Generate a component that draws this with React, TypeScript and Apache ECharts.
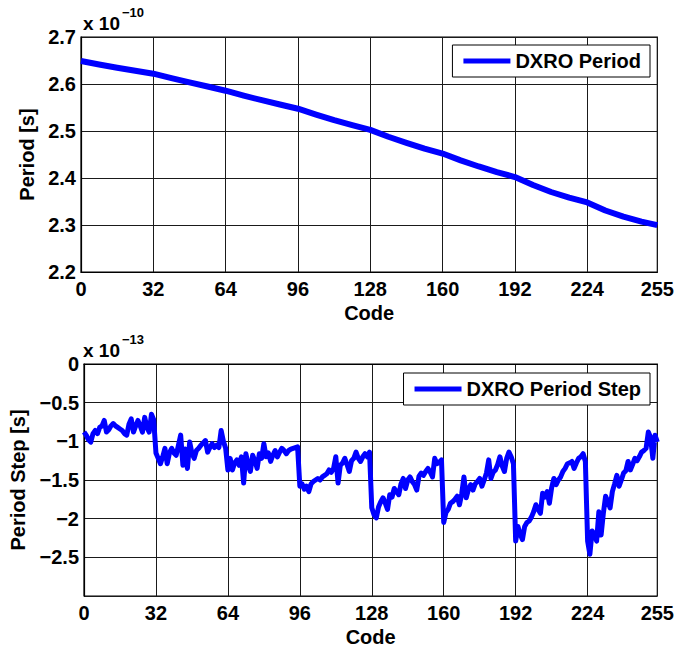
import React, { useEffect, useRef } from "react";
import * as echarts from "echarts";

const FONT = "'Liberation Sans', Arial, Helvetica, sans-serif";

// x tick values shared by both plots
const codeTicks = [0, 32, 64, 96, 128, 160, 192, 224, 255];

// Top plot: DXRO period (units of 1e-10 s), sampled codes
const topCodes = [0, 8, 16, 24, 32, 40, 48, 56, 64, 72, 80, 88, 96, 104, 112, 120, 128, 136, 144, 152, 160, 168, 176, 184, 192, 200, 208, 216, 224, 232, 240, 248, 255];
const topPeriod = [2.649, 2.6415, 2.6347, 2.6281, 2.6219, 2.6125, 2.6035, 2.5947, 2.5857, 2.5753, 2.5655, 2.5563, 2.5474, 2.5348, 2.5231, 2.5125, 2.5024, 2.4878, 2.4748, 2.4626, 2.452, 2.4375, 2.4245, 2.4127, 2.402, 2.385, 2.3702, 2.3582, 2.348, 2.3308, 2.3177, 2.3071, 2.2997];

// Bottom plot: DXRO period step (units of 1e-13 s), codes 0..255
const periodStep = [
  -0.88, -0.92, -0.98, -1.01, -0.90, -0.86, -0.90, -0.82, -0.80, -0.73, -0.88, -0.85, -0.80, -0.77, -0.80, -0.82,
  -0.84, -0.86, -0.90, -0.92, -0.78, -0.71, -0.88, -0.80, -0.73, -0.80, -0.88, -0.69, -0.82, -0.88, -0.65, -0.72,
  -1.15, -1.22, -1.29, -1.20, -1.09, -1.29, -1.15, -1.09, -1.15, -1.18, -1.05, -0.92, -1.31, -1.10, -1.35, -1.01,
  -1.15, -1.22, -1.12, -1.09, -1.05, -1.02, -0.99, -1.14, -1.08, -1.03, -1.08, -1.05, -1.08, -0.86, -1.00, -1.09,
  -1.37, -1.22, -1.37, -1.28, -1.24, -1.31, -1.20, -1.54, -1.16, -1.30, -1.39, -1.18, -1.25, -1.35, -1.16, -1.22,
  -1.03, -1.20, -1.15, -1.26, -1.18, -1.12, -1.20, -1.14, -1.09, -1.12, -1.16, -1.12, -1.10, -1.09, -1.08, -1.07,
  -1.58, -1.55, -1.62, -1.58, -1.65, -1.55, -1.52, -1.50, -1.48, -1.50, -1.46, -1.44, -1.42, -1.37, -1.40, -1.35,
  -1.20, -1.54, -1.31, -1.28, -1.22, -1.30, -1.39, -1.25, -1.22, -1.14, -1.22, -1.26, -1.20, -1.16, -1.20, -1.14,
  -1.86, -1.95, -1.99, -1.85, -1.78, -1.73, -1.80, -1.88, -1.69, -1.72, -1.61, -1.65, -1.69, -1.55, -1.48, -1.61,
  -1.50, -1.46, -1.52, -1.56, -1.63, -1.45, -1.41, -1.44, -1.39, -1.35, -1.40, -1.46, -1.22, -1.29, -1.27, -1.24,
  -2.05, -1.92, -1.88, -1.80, -1.78, -1.75, -1.71, -1.82, -1.68, -1.46, -1.73, -1.62, -1.56, -1.63, -1.55, -1.52,
  -1.48, -1.58, -1.50, -1.41, -1.24, -1.48, -1.40, -1.37, -1.30, -1.20, -1.32, -1.39, -1.22, -1.14, -1.20, -1.29,
  -2.29, -2.10, -2.20, -2.27, -2.10, -2.05, -2.03, -1.98, -1.91, -1.82, -1.88, -1.93, -1.67, -1.72, -1.65, -1.80,
  -1.60, -1.48, -1.56, -1.50, -1.46, -1.39, -1.35, -1.29, -1.28, -1.26, -1.35, -1.28, -1.22, -1.20, -1.16, -1.26,
  -2.29, -2.46, -2.16, -2.20, -2.29, -1.91, -2.21, -1.93, -1.71, -1.78, -1.86, -1.65, -1.55, -1.44, -1.58, -1.50,
  -1.41, -1.38, -1.26, -1.37, -1.30, -1.22, -1.25, -1.20, -1.14, -1.12, -1.09, -0.88, -0.95, -1.22, -0.92, -1.01,
];

const topLabels = ["2.2", "2.3", "2.4", "2.5", "2.6", "2.7"];
const bottomLabels = ["0", "\u22120.5", "\u22121", "\u22121.5", "\u22122", "\u22122.5"];

const BLUE = "#0000ff";

export default function App() {
  const ref = useRef<HTMLDivElement>(null);
  useEffect(() => {
    if (!ref.current) return;
    const chart = echarts.init(ref.current, null, { renderer: "svg" });
    const labelStyle = { fontFamily: FONT, fontSize: 20, fontWeight: "bold", color: "#000" };
    const xAxisCommon = (gridIndex: number) => ({
      type: "value",
      gridIndex,
      min: 0,
      max: 255,
      interval: 32,
      name: "Code",
      nameLocation: "middle",
      nameGap: 31,
      nameTextStyle: { ...labelStyle },
      axisLine: { show: true, lineStyle: { color: "#000", width: 1.2 } },
      axisTick: { show: false },
      axisLabel: { ...labelStyle, margin: 7, formatter: (v: number) => (codeTicks.includes(v) ? String(v) : "") },
      splitLine: { show: true, lineStyle: { color: "#1a1a1a", width: 1 } },
    });
    const legendCommon = {
      icon: "rect",
      itemWidth: 47,
      itemHeight: 5,
      borderColor: "#000",
      borderWidth: 1,
      backgroundColor: "#fff",
      padding: [6, 9, 6, 11],
      textStyle: { ...labelStyle },
      selectedMode: false,
    };
    const option = {
      animation: false,
      backgroundColor: "#fff",
      grid: [
        { left: 81, right: 19, top: 37, height: 235, show: true, borderColor: "#000", borderWidth: 1.2, backgroundColor: "transparent" },
        { left: 81, right: 19, top: 364, height: 235, show: true, borderColor: "#000", borderWidth: 1.2, backgroundColor: "transparent" },
      ],
      xAxis: [xAxisCommon(0), xAxisCommon(1)],
      yAxis: [
        {
          type: "value",
          gridIndex: 0,
          min: 2.2,
          max: 2.7,
          interval: 0.1,
          name: "Period [s]",
          nameLocation: "middle",
          nameGap: 41,
          nameTextStyle: { ...labelStyle },
          axisLine: { show: true, lineStyle: { color: "#000", width: 1.2 } },
          axisTick: { show: false },
          axisLabel: {
            ...labelStyle,
            margin: 5,
            formatter: (v: number) => {
              const i = Math.round((v - 2.2) / 0.1);
              return topLabels[i] ?? "";
            },
          },
          splitLine: { show: true, lineStyle: { color: "#1a1a1a", width: 1 } },
        },
        {
          type: "value",
          gridIndex: 1,
          min: -3,
          max: 0,
          interval: 0.5,
          name: "Period Step [s]",
          nameLocation: "middle",
          nameGap: 56,
          nameTextStyle: { ...labelStyle },
          axisLine: { show: true, lineStyle: { color: "#000", width: 1.2 } },
          axisTick: { show: false },
          axisLabel: {
            ...labelStyle,
            margin: 5,
            formatter: (v: number) => {
              const i = Math.round(-v / 0.5);
              return bottomLabels[i] ?? "";
            },
          },
          splitLine: { show: true, lineStyle: { color: "#1a1a1a", width: 1 } },
        },
      ],
      legend: [
        { ...legendCommon, data: ["DXRO Period"], right: 27, top: 45 },
        { ...legendCommon, data: ["DXRO Period Step"], right: 27, top: 373 },
      ],
      graphic: [
        { type: "text", left: 83, top: 14, style: { text: "x 10", font: `bold 19px ${FONT}`, fill: "#000" } },
        { type: "text", left: 122, top: 6, style: { text: "\u221210", font: `bold 13px ${FONT}`, fill: "#000" } },
        { type: "text", left: 83, top: 341, style: { text: "x 10", font: `bold 19px ${FONT}`, fill: "#000" } },
        { type: "text", left: 122, top: 333, style: { text: "\u221213", font: `bold 13px ${FONT}`, fill: "#000" } },
      ],
      series: [
        {
          type: "line",
          name: "DXRO Period",
          xAxisIndex: 0,
          yAxisIndex: 0,
          data: topCodes.map((c, i) => [c, topPeriod[i]]),
          symbol: "none",
          lineStyle: { width: 6, color: BLUE, join: "round" },
          itemStyle: { color: BLUE },
        },
        {
          type: "line",
          name: "DXRO Period Step",
          xAxisIndex: 1,
          yAxisIndex: 1,
          data: periodStep.map((v, i) => [i, v]),
          symbol: "none",
          lineStyle: { width: 5, color: BLUE, join: "round" },
          itemStyle: { color: BLUE },
        },
      ],
    };
    chart.setOption(option as any);
    return () => chart.dispose();
  }, []);
  return (
    <div
      ref={ref}
      style={{ position: "fixed", left: 0, top: 0, width: 677, height: 648, background: "#fff" }}
    />
  );
}
